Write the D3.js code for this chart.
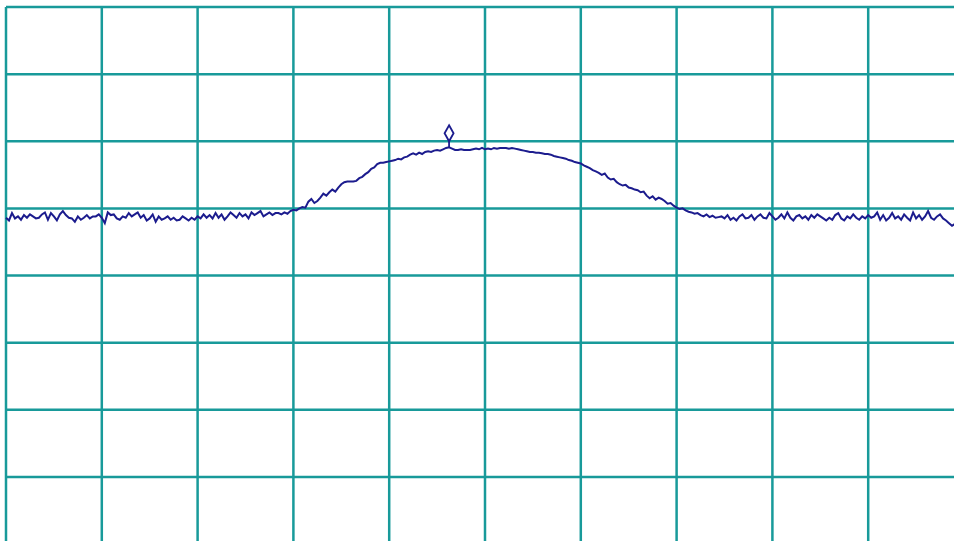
<!DOCTYPE html>
<html>
<head>
<meta charset="utf-8">
<script src="https://cdn.jsdelivr.net/npm/d3@7/dist/d3.min.js"></script>
<style>
  html, body { margin: 0; padding: 0; background: #ffffff; overflow: hidden; }
  svg { display: block; }
</style>
</head>
<body>
<svg id="chart" width="954" height="541"></svg>
<script>
// Grid divisions (10 horizontal x 8 vertical), reference level 0 dB, 10 dB/div
const xDivisions = [0, 1, 2, 3, 4, 5, 6, 7, 8, 9, 10];
const yDivisionsDb = [0, -10, -20, -30, -40, -50, -60, -70, -80];

// Trace values (dB), 321 points across 10 divisions
const traceDb = [
  -31.4,-31.8,-30.7,-31.5,-31.2,-31.7,-31.0,-31.4,-30.9,-31.2,
  -31.5,-31.4,-30.9,-30.6,-31.7,-30.7,-31.2,-31.8,-30.9,-30.4,
  -31.0,-31.4,-31.5,-32.0,-31.2,-31.7,-31.4,-31.0,-31.5,-31.2,
  -31.2,-30.9,-31.4,-32.2,-30.6,-31.0,-30.9,-31.5,-31.7,-31.2,
  -31.4,-30.7,-31.2,-30.9,-30.6,-31.4,-31.0,-31.8,-31.5,-30.9,
  -32.0,-31.2,-31.7,-31.5,-31.2,-31.7,-31.4,-31.8,-31.7,-31.2,
  -31.5,-31.8,-31.4,-31.7,-31.2,-31.5,-30.9,-31.4,-31.0,-31.5,
  -30.7,-31.4,-30.9,-31.7,-31.2,-30.6,-31.0,-31.4,-30.7,-31.2,
  -30.9,-31.5,-30.6,-31.0,-30.7,-30.4,-31.2,-30.9,-30.6,-31.0,
  -30.7,
  -30.7,-30.9,-30.6,-30.8,-30.4,-30.2,-30.3,-30.0,-29.8,-29.9,
  -29.0,-28.6,-29.2,-28.9,-28.4,-27.8,-28.1,-27.6,-27.2,-27.5,
  -26.9,-26.4,-26.1,-26.0,-26.0,-26.0,-25.9,-25.5,-25.3,-24.9,
  -24.6,-24.1,-23.9,-23.4,-23.2,-23.2,-23.1,-23.0,-22.9,-22.8,
  -22.6,-22.7,-22.4,-22.3,-22.0,-21.8,-22.0,-21.7,-21.9,-21.6,
  -21.5,-21.6,-21.4,-21.3,-21.4,-21.2,-21.0,-20.9,-21.1,-21.3,
  -21.3,-21.2,-21.3,-21.3,-21.3,-21.2,-21.1,-21.2,-21.0,-21.2,
  -21.1,-21.2,-21.0,-21.1,-21.0,-21.0,-21.0,-21.1,-21.0,-21.1,
  -21.2,-21.3,-21.4,-21.5,-21.6,-21.6,-21.7,-21.7,-21.8,-21.9,
  -21.9,-22.0,-22.2,-22.3,-22.4,-22.5,-22.6,-22.8,-22.9,-23.1,
  -23.2,-23.3,-23.6,-23.8,-24.0,-24.3,-24.5,-24.7,-25.0,-24.8,
  -25.4,-25.7,-25.6,-26.1,-26.4,-26.6,-26.5,-26.9,-27.0,-27.2,
  -27.3,-27.6,-27.5,-28.1,-28.5,-28.2,-28.7,-28.4,-28.6,-28.9,
  -29.3,-29.2,-29.6,-29.9,-30.1,-30.0,-30.3,-30.5,-30.6,-30.8,
  -30.7,-31.0,-31.2,-30.9,-31.3,-31.1,-31.4,-31.3,
  -31.2,-31.5,-31.0,-31.7,-31.4,-31.8,-31.2,-30.9,-31.5,-31.4,
  -31.0,-31.7,-31.2,-30.9,-31.4,-31.5,-30.7,-31.2,-31.7,-31.4,
  -30.9,-31.5,-30.6,-31.4,-31.8,-31.2,-31.0,-31.5,-31.2,-31.7,
  -31.0,-31.4,-30.9,-31.2,-31.5,-31.8,-31.4,-31.7,-31.0,-30.7,
  -31.5,-31.8,-31.2,-31.5,-30.9,-31.4,-31.7,-31.2,-31.5,-31.0,
  -31.4,-31.2,-30.6,-31.7,-31.0,-31.8,-31.4,-30.7,-31.5,-31.2,
  -31.7,-30.9,-31.4,-31.8,-30.6,-31.5,-31.0,-31.7,-31.2,-30.4,
  -31.4,-31.7,-31.2,-30.9,-31.5,-31.8,-32.2,-32.6,-32.3,-32.0,
  -32.2,-31.8
];

// Marker position (trace index)
const markerIndex = [148];

const svg = d3.select("#chart");

const xDiv = d3.scaleLinear().domain([0, 10]).range([6, 964]);
const yDb = d3.scaleLinear().domain([0, -80]).range([7, 544]);
const xIdx = d3.scaleLinear().domain([0, traceDb.length - 1]).range([6, 964]);

const gridColor = "#189a9a";
const traceColor = "#1c1c8e";

// Vertical grid lines
svg.append("g").selectAll("line.v")
  .data(xDivisions).join("line")
  .attr("x1", d => xDiv(d)).attr("x2", d => xDiv(d))
  .attr("y1", yDb(0)).attr("y2", yDb(-80))
  .attr("stroke", gridColor).attr("stroke-width", 2.5);

// Horizontal grid lines
svg.append("g").selectAll("line.h")
  .data(yDivisionsDb).join("line")
  .attr("x1", xDiv(0)).attr("x2", xDiv(10))
  .attr("y1", d => yDb(d)).attr("y2", d => yDb(d))
  .attr("stroke", gridColor).attr("stroke-width", 2.5);

// Trace
const line = d3.line()
  .x((d, i) => xIdx(i))
  .y(d => yDb(d))
  .curve(d3.curveStepAfter);

svg.append("path")
  .datum(traceDb)
  .attr("d", d3.line().x((d, i) => xIdx(i)).y(d => yDb(d)))
  .attr("fill", "none")
  .attr("stroke", traceColor)
  .attr("stroke-width", 2)
  .attr("stroke-linejoin", "miter");

// Marker: diamond with stem above trace point
const mk = svg.append("g").selectAll("g")
  .data(markerIndex).join("g")
  .attr("transform", d => `translate(${xIdx(d)},${yDb(traceDb[d])})`);
mk.append("line")
  .attr("x1", 0).attr("x2", 0).attr("y1", 0).attr("y2", -6)
  .attr("stroke", traceColor).attr("stroke-width", 1.8);
mk.append("path")
  .attr("d", "M0,-22 L4.5,-14 L0,-6 L-4.5,-14 Z")
  .attr("fill", "#ffffff")
  .attr("stroke", traceColor).attr("stroke-width", 1.8);
</script>
</body>
</html>
